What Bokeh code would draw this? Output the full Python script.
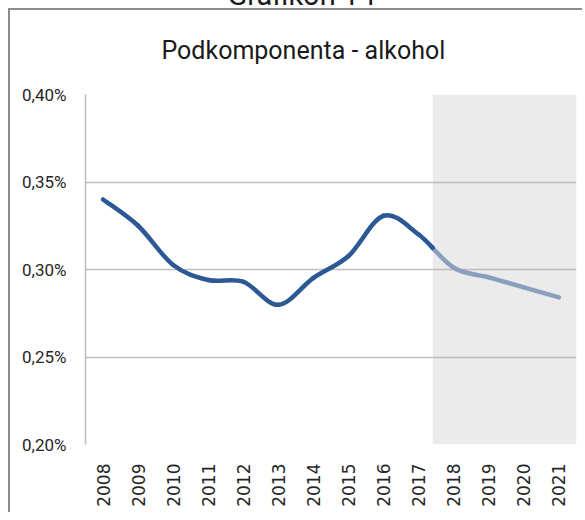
import math
from bokeh.plotting import figure
from bokeh.layouts import column
from bokeh.models import Range1d, FixedTicker, BoxAnnotation, ColumnDataSource, Div, Title
from bokeh.embed import file_html
from bokeh.resources import INLINE

# ---- data ----
years = [2008, 2009, 2010, 2011, 2012, 2013, 2014, 2015, 2016, 2017, 2018, 2019, 2020, 2021]
values = [0.3400, 0.3250, 0.3026, 0.2940, 0.2930, 0.2798, 0.2952, 0.3077, 0.3307, 0.3200,
          0.3010, 0.2955, 0.2898, 0.2841]
forecast_start = 2017.4
y_ticks = [0.20, 0.25, 0.30, 0.35, 0.40]
y_tick_labels = ["0,20%", "0,25%", "0,30%", "0,35%", "0,40%"]
title_text = "Podkomponenta - alkohol"
header_text = "Grafikon 14"

FONT = "Roboto"

p = figure(width=574, height=504,
           x_range=Range1d(2007.5, 2021.5), y_range=Range1d(0.20, 0.40),
           output_backend="svg", toolbar_location=None,
           min_border_left=75, min_border_right=8, min_border_top=84, min_border_bottom=70,
           styles={"border-top": "2px solid #8c8c8c", "border-left": "2px solid #8c8c8c",
                   "margin-left": "8px"})
p.outline_line_color = None
p.background_fill_color = "white"
p.border_fill_color = "white"

# spacer between frame and title, then the title itself (added later = further from frame)
p.add_layout(Title(text=" ", text_font_size="1px", standoff=27), "above")
p.add_layout(Title(text=title_text, align="left", offset=76, standoff=0,
                   text_font=FONT, text_font_size="25px", text_font_style="normal",
                   text_color="#1a1a1a"), "above")

# shaded forecast region
p.add_layout(BoxAnnotation(left=forecast_start, fill_color="#ebebeb", fill_alpha=1.0,
                           line_color=None, level="image"))

# grid
p.xgrid.visible = False
p.ygrid.ticker = FixedTicker(ticks=y_ticks)
p.ygrid.grid_line_color = "#bdbdbd"
p.ygrid.grid_line_width = 1.5

# y axis
p.yaxis.ticker = FixedTicker(ticks=y_ticks)
p.yaxis.major_label_overrides = {t: l for t, l in zip(y_ticks, y_tick_labels)}
p.yaxis.axis_line_color = "#bdbdbd"
p.yaxis.axis_line_width = 1.5
p.yaxis.major_tick_line_color = None
p.yaxis.minor_tick_line_color = None
p.yaxis.major_label_standoff = 13
p.yaxis.major_label_text_font = FONT
p.yaxis.major_label_text_font_size = "17px"
p.yaxis.major_label_text_color = "#262626"

# x axis
p.xaxis.ticker = FixedTicker(ticks=years)
p.xaxis.major_label_overrides = {y: str(y) for y in years}
p.xaxis.major_label_orientation = math.pi / 2
p.xaxis.axis_line_color = None
p.xaxis.major_tick_line_color = None
p.xaxis.minor_tick_line_color = None
p.xaxis.major_label_standoff = 13
p.xaxis.major_label_text_font = "DejaVu Sans"
p.xaxis.major_label_text_font_size = "17px"
p.xaxis.major_label_text_color = "#262626"

# smoothed line (Catmull-Rom -> cubic Bezier, like a smoothed spreadsheet line)
n = len(years)
keys = ("x0", "y0", "x1", "y1", "cx0", "cy0", "cx1", "cy1")
segs = {"hist": {k: [] for k in keys}, "fc": {k: [] for k in keys}}


def add(kind, a, b, c, d):
    s = segs[kind]
    s["x0"].append(a[0]); s["y0"].append(a[1])
    s["cx0"].append(b[0]); s["cy0"].append(b[1])
    s["cx1"].append(c[0]); s["cy1"].append(c[1])
    s["x1"].append(d[0]); s["y1"].append(d[1])


def lerp(a, b, t):
    return (a[0] + (b[0] - a[0]) * t, a[1] + (b[1] - a[1]) * t)


for i in range(n - 1):
    ip = i - 1 if i > 0 else i
    inx = i + 2 if i + 2 < n else i + 1
    P0 = (years[i], values[i])
    P3 = (years[i + 1], values[i + 1])
    C1 = (P0[0] + (P3[0] - years[ip]) / 6.0, P0[1] + (P3[1] - values[ip]) / 6.0)
    C2 = (P3[0] - (years[inx] - P0[0]) / 6.0, P3[1] - (values[inx] - P0[1]) / 6.0)
    if P3[0] <= forecast_start:
        add("hist", P0, C1, C2, P3)
    elif P0[0] >= forecast_start:
        add("fc", P0, C1, C2, P3)
    else:
        t = (forecast_start - P0[0]) / (P3[0] - P0[0])
        q0 = lerp(P0, C1, t); q1 = lerp(C1, C2, t); q2 = lerp(C2, P3, t)
        r0 = lerp(q0, q1, t); r1 = lerp(q1, q2, t)
        m = lerp(r0, r1, t)
        add("hist", P0, q0, r0, m)
        add("fc", m, r1, q2, P3)

p.bezier(x0="x0", y0="y0", x1="x1", y1="y1", cx0="cx0", cy0="cy0", cx1="cx1", cy1="cy1",
         source=ColumnDataSource(segs["fc"]), line_color="#8a9fbc", line_width=4.5, line_cap="round")
p.bezier(x0="x0", y0="y0", x1="x1", y1="y1", cx0="cx0", cy0="cy0", cx1="cx1", cy1="cy1",
         source=ColumnDataSource(segs["hist"]), line_color="#2c5894", line_width=4.5, line_cap="round")

header = Div(text=header_text, width=585, height=25,
             styles={"font-family": FONT, "font-size": "29px", "line-height": "35px",
                     "color": "#1a1a1a", "text-align": "center", "padding-left": "8px",
                     "box-sizing": "border-box"})

layout = column(header, p, spacing=0, styles={"margin-top": "-27px"})

open("out.html", "w").write(file_html(layout, INLINE))
